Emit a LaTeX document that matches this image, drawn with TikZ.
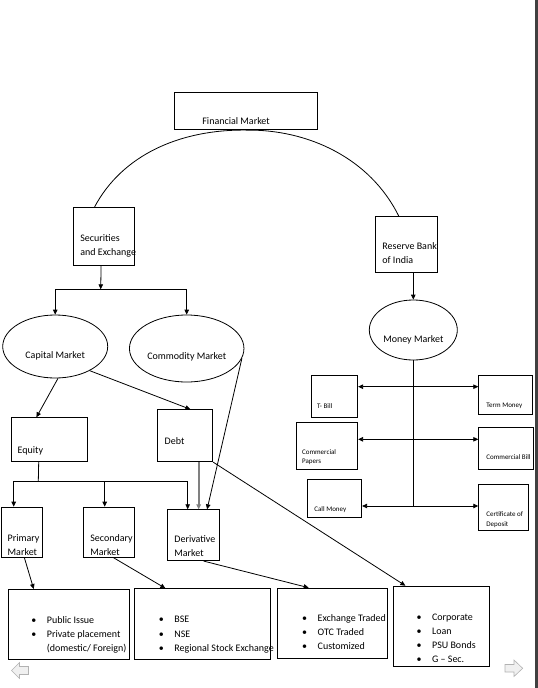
\documentclass[tikz,border=0pt]{standalone}
\usepackage{fontspec}
\setmainfont{Carlito}
\usetikzlibrary{arrows.meta, shapes.geometric, calc}

\newcommand\bul[1]{\mbox{\makebox[15.5pt][l]{\textbullet}#1}}
\newcommand\cont[1]{\mbox{\hspace*{15.5pt}#1}}

\begin{document}
\begin{tikzpicture}[x=1pt, y=-1pt, >={Triangle[length=5pt,width=4.5pt]}, line width=0.8pt,
  rectbox/.style={draw, anchor=north west, align=flush left, inner ysep=0pt, font=\fontsize{10}{14}\selectfont},
  smallbox/.style={rectbox, font=\fontsize{7}{9.3}\selectfont},
  listbox/.style={rectbox, font=\fontsize{10}{14.2}\selectfont},
  oval/.style={draw, ellipse, inner sep=0pt, text depth=0pt, font=\fontsize{10}{12}\selectfont}]
  \useasboundingbox (0,0) rectangle (538,688);

  % top level
  \node[rectbox, text width=87.6pt, inner xsep=27.7pt, text height=32.3pt, text depth=5.3pt] (fm) at (174.3,91.7) {\mbox{Financial Market}};
  \node[rectbox, text width=47.6pt, inner xsep=6.7pt, text height=33.4pt, text depth=24pt] (sebi) at (73.3,207.3) {\mbox{Securities}\\\mbox{and Exchange}};
  \node[rectbox, text width=48pt, inner xsep=6.7pt, text height=33pt, text depth=23.3pt] (rbi) at (375.3,216) {\mbox{Reserve Bank}\\\mbox{of India}};

  % markets
  \node[oval, minimum width=105pt, minimum height=63pt, text height=23pt] (cap) at (55.2,346.5) {Capital Market};
  \node[oval, minimum width=114.5pt, minimum height=67pt, text height=21pt] (com) at (186.7,348.5) {Commodity Market};
  \node[oval, minimum width=88pt, minimum height=60pt, text height=25pt] (mm) at (413.3,330) {Money Market};

  % money market instruments
  \node[smallbox, text width=34.6pt, inner xsep=6pt, text height=32.7pt, text depth=9.3pt] (tbill) at (310.7,375.3) {\mbox{T- Bill}};
  \node[smallbox, text width=49.6pt, inner xsep=6pt, text height=31.7pt, text depth=15pt] (cpaper) at (295.7,422.3) {\mbox{Commercial}\\\mbox{Papers}};
  \node[smallbox, text width=40.6pt, inner xsep=6.7pt, text height=32pt, text depth=6pt] (callm) at (307.3,479.3) {\mbox{Call Money}};
  \node[smallbox, text width=38.6pt, inner xsep=7.7pt, text height=32pt, text depth=6.7pt] (termm) at (478.3,375.3) {\mbox{Term Money}};
  \node[smallbox, text width=39.6pt, inner xsep=7.7pt, text height=31.7pt, text depth=10pt] (cbill) at (478.3,427.3) {\mbox{Commercial Bill}};
  \node[smallbox, text width=34.6pt, inner xsep=7.7pt, text height=32.3pt, text depth=13.7pt] (cdep) at (478.3,484) {\mbox{Certificate of}\\\mbox{Deposit}};
  \coordinate (rowA) at (413.3,386.7);
  \coordinate (rowB) at (413.3,439.3);
  \coordinate (rowC) at (413.3,506);

  % capital market segments
  \node[rectbox, text width=62.8pt, inner xsep=6.6pt, text height=35.4pt, text depth=8.6pt] (equity) at (10.7,417.3) {\mbox{Equity}};
  \node[rectbox, text width=41pt, inner xsep=7pt, text height=34.7pt, text depth=17.3pt] (debt) at (157.3,409.3) {\mbox{Debt}};
  \node[rectbox, text width=28.4pt, inner xsep=6.6pt, text height=34pt, text depth=16.3pt] (primary) at (0.7,506.7) {\mbox{Primary}\\\mbox{Market}};
  \node[rectbox, text width=37.6pt, inner xsep=6.7pt, text height=34pt, text depth=16.3pt] (secondary) at (83.3,506.7) {\mbox{Secondary}\\\mbox{Market}};
  \node[rectbox, text width=38.6pt, inner xsep=6.7pt, text height=33pt, text depth=18pt] (deriv) at (167.3,509.3) {\mbox{Derivative}\\\mbox{Market}};

  % lists
  \node[listbox, text width=75.6pt, inner xsep=22.7pt, text height=33.7pt, text depth=36.3pt] (primlist) at (8.3,589)
    {\bul{Public Issue}\\\bul{Private placement}\\\cont{(domestic/ Foreign)}};
  \node[listbox, text width=87.6pt, inner xsep=24.2pt, text height=34.2pt, text depth=36.5pt] (seclist) at (134.3,588.3)
    {\bul{BSE}\\\bul{NSE}\\\bul{Regional Stock Exchange}};
  \node[listbox, text width=61pt, inner xsep=24.5pt, text height=33.3pt, text depth=37.3pt] (derlist) at (277.3,587.7)
    {\bul{Exchange Traded}\\\bul{OTC Traded}\\\bul{Customized}};
  \node[listbox, text width=50.2pt, inner xsep=22.9pt, text height=34pt, text depth=46.3pt] (debtlist) at (393.3,585.7)
    {\bul{Corporate}\\\bul{Loan}\\\bul{PSU Bonds}\\\bul{G – Sec.}};

  % connectors
  \draw ([xshift=-9.8pt]sebi.north) .. controls (122,155) and (180,129.3) .. (fm.south)
    .. controls (308,129.3) and (370,158) .. ([xshift=-7.7pt]rbi.north);
  \coordinate (sebiJ) at (100.7,289.3);
  \draw[->] ([xshift=-3.1pt]sebi.south) -- (sebiJ);
  \draw[->] (sebiJ) -| (cap.north);
  \draw[->] (sebiJ) -| (com.north);
  \draw[->] (mm.north |- rbi.south) -- (mm.north);
  \draw (mm.south) -- (rowC);
  \draw[<->] (tbill.east |- rowA) -- (termm.west |- rowA);
  \draw[<->] (cpaper.east |- rowB) -- (cbill.west |- rowB);
  \draw[<->] (callm.east |- rowC) -- (cdep.west |- rowC);

  \draw[->] (cap.-85) -- ([xshift=-12.7pt]equity.north);
  \draw[->] (cap.-35) -- ([xshift=5.2pt]debt.north);
  \draw[->] (com.-10) -- ([xshift=13.4pt]deriv.north);
  \coordinate (eqJ) at (38.3,481);
  \draw ([xshift=-10.4pt]equity.south) -- (eqJ);
  \draw[->] (eqJ) -| ([xshift=-8.2pt]primary.north);
  \draw[->] (eqJ) -| ([xshift=-4.5pt]secondary.north);
  \draw[->] (eqJ) -| ([xshift=-6pt]deriv.north);
  \draw[->, black!50, line width=1.6pt] ([xshift=13.5pt]debt.south) -- ([xshift=5pt]deriv.north);
  \draw[->] ([xshift=2.5pt]primary.south) -- ([xshift=-35.5pt]primlist.north);
  \draw[->] ([xshift=4.5pt]secondary.south) -- ([xshift=-37.3pt]seclist.north);
  \draw[->] ([xshift=10pt]deriv.south) -- ([xshift=-24pt]derlist.north);
  \draw[->] (debt.south east) -- ([xshift=-36.3pt]debtlist.north);

  % page furniture
  \fill[black!75] (535.3,0) rectangle (537.6,688);
  \draw[gray!60, fill=gray!12, line width=0.6pt] (11.5,670.5) -- (19.5,662.5) -- (19.5,666.5) -- (28.5,666.5)
    -- (28.5,674.5) -- (19.5,674.5) -- (19.5,678.5) -- cycle;
  \draw[gray!60, fill=gray!12, line width=0.6pt] (505,664.5) -- (514,664.5) -- (514,660) -- (522.7,668.3)
    -- (514,676.5) -- (514,672) -- (505,672) -- cycle;
\end{tikzpicture}
\end{document}
